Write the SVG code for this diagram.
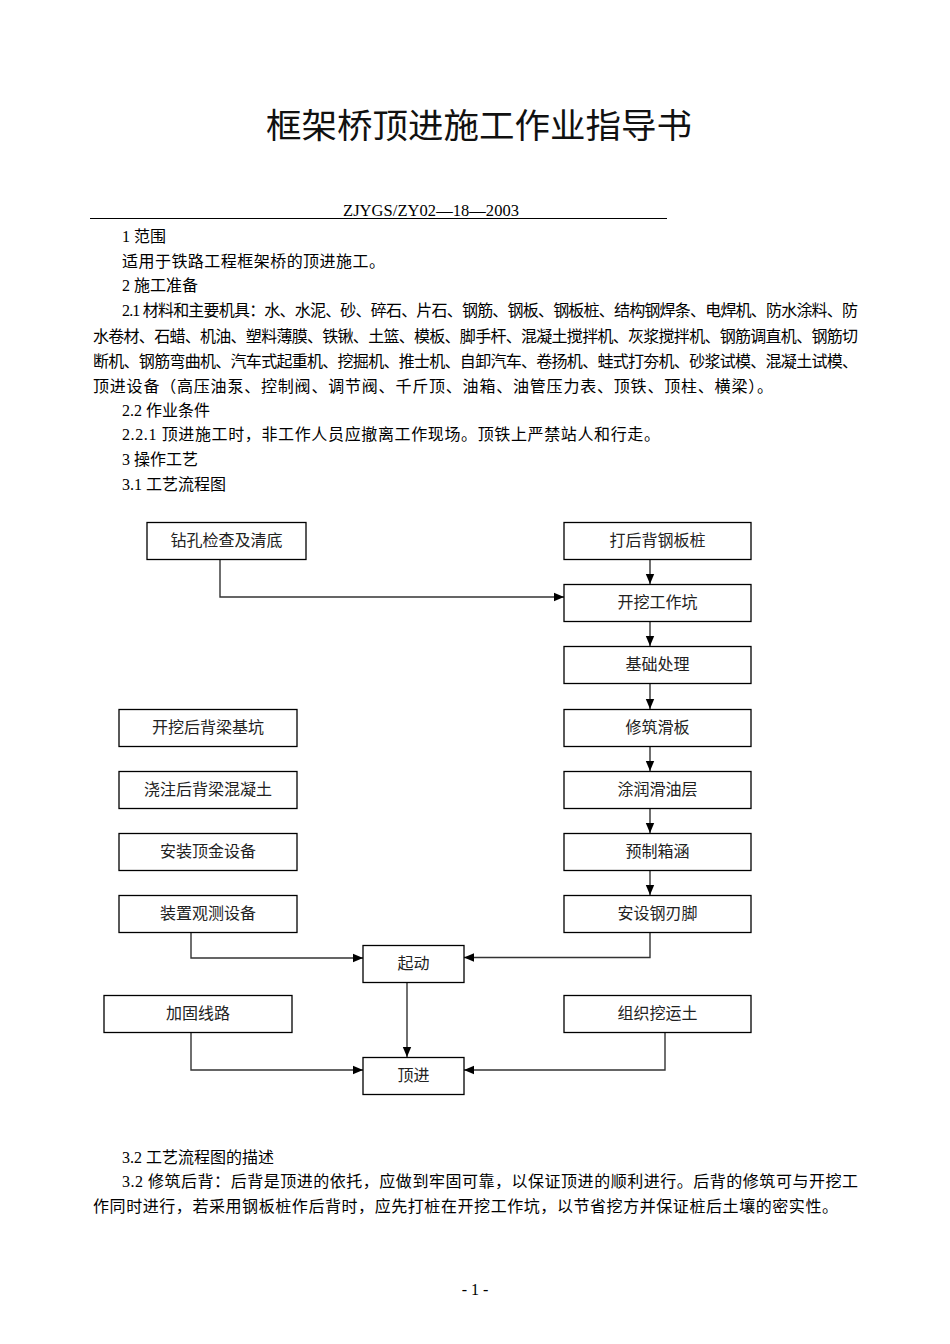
<svg xmlns="http://www.w3.org/2000/svg" width="950" height="1344" viewBox="0 0 950 1344">
<style>
  .t { font-family: "Liberation Serif", "Noto Sans CJK SC", serif; font-size: 16px; fill: #000; }
  .title { font-family: "Noto Sans CJK SC", "Liberation Serif", serif; font-size: 34px; fill: #111; }
  .box rect { fill: #fff; stroke: #000; stroke-width: 1.3; }
  .box text { font-family: "Liberation Serif", "Noto Sans CJK SC", serif; font-size: 16px; fill: #222; text-anchor: middle; }
  .conn path { fill: none; stroke: #333; stroke-width: 1.4; }
</style>
<defs>
  <marker id="arr" markerUnits="userSpaceOnUse" markerWidth="10" markerHeight="10" refX="10" refY="5" orient="auto">
    <path d="M0,0.8 L10,5 L0,9.2 z" fill="#000"/>
  </marker>
</defs>
<rect width="950" height="1344" fill="#fff"/>

<text class="title" x="266" y="138" textLength="426" lengthAdjust="spacingAndGlyphs">框架桥顶进施工作业指导书</text>

<text class="t" x="343" y="216" style="font-size:16.5px" textLength="176">ZJYGS/ZY02—18—2003</text>
<line x1="90" y1="218.5" x2="667" y2="218.5" stroke="#000" stroke-width="1"/>

<text class="t" x="122" y="242">1 范围</text>
<text class="t" x="122" y="267" textLength="263">适用于铁路工程框架桥的顶进施工。</text>
<text class="t" x="122" y="291">2 施工准备</text>
<text class="t" x="122" y="316" textLength="736">2.1 材料和主要机具：水、水泥、砂、碎石、片石、钢筋、钢板、钢板桩、结构钢焊条、电焊机、防水涂料、防</text>
<text class="t" x="93" y="342" textLength="765">水卷材、石蜡、机油、塑料薄膜、铁锹、土篮、模板、脚手杆、混凝土搅拌机、灰浆搅拌机、钢筋调直机、钢筋切</text>
<text class="t" x="93" y="367" textLength="765">断机、钢筋弯曲机、汽车式起重机、挖掘机、推士机、自卸汽车、卷扬机、蛙式打夯机、砂浆试模、混凝土试模、</text>
<text class="t" x="93" y="392" textLength="680">顶进设备（高压油泵、控制阀、调节阀、千斤顶、油箱、油管压力表、顶铁、顶柱、横梁）。</text>
<text class="t" x="122" y="416">2.2 作业条件</text>
<text class="t" x="122" y="440" textLength="538">2.2.1 顶进施工时，非工作人员应撤离工作现场。顶铁上严禁站人和行走。</text>
<text class="t" x="122" y="465">3 操作工艺</text>
<text class="t" x="122" y="490">3.1 工艺流程图</text>

<g class="conn" id="connectors">
  <path d="M220,559 V597 H564" marker-end="url(#arr)"/>
  <path d="M650,559 V584" marker-end="url(#arr)"/>
  <path d="M650,621 V646" marker-end="url(#arr)"/>
  <path d="M650,683 V709" marker-end="url(#arr)"/>
  <path d="M650,746 V771" marker-end="url(#arr)"/>
  <path d="M650,808 V833" marker-end="url(#arr)"/>
  <path d="M650,870 V895" marker-end="url(#arr)"/>
  <path d="M191,932 V958 H363" marker-end="url(#arr)"/>
  <path d="M650,932 V957.5 H464" marker-end="url(#arr)"/>
  <path d="M407,982 V1057" marker-end="url(#arr)"/>
  <path d="M191,1032 V1070 H363" marker-end="url(#arr)"/>
  <path d="M665,1032 V1070 H464" marker-end="url(#arr)"/>
</g>

<g class="box" id="n1"><rect x="147" y="522.5" width="159" height="37"/><text x="226.5" y="545.5">钻孔检查及清底</text></g>
<g class="box" id="n2"><rect x="564" y="522.5" width="187" height="37"/><text x="657.5" y="545.5">打后背钢板桩</text></g>
<g class="box" id="n3"><rect x="564" y="584.5" width="187" height="37"/><text x="657.5" y="607.5">开挖工作坑</text></g>
<g class="box" id="n4"><rect x="564" y="646.5" width="187" height="37"/><text x="657.5" y="669.5">基础处理</text></g>
<g class="box" id="n5"><rect x="564" y="709.5" width="187" height="37"/><text x="657.5" y="732.5">修筑滑板</text></g>
<g class="box" id="n6"><rect x="564" y="771.5" width="187" height="37"/><text x="657.5" y="794.5">涂润滑油层</text></g>
<g class="box" id="n7"><rect x="564" y="833.5" width="187" height="37"/><text x="657.5" y="856.5">预制箱涵</text></g>
<g class="box" id="n8"><rect x="564" y="895.5" width="187" height="37"/><text x="657.5" y="918.5">安设钢刃脚</text></g>
<g class="box" id="n9"><rect x="119" y="709.5" width="178" height="37"/><text x="208" y="732.5">开挖后背梁基坑</text></g>
<g class="box" id="n10"><rect x="119" y="771.5" width="178" height="37"/><text x="208" y="794.5">浇注后背梁混凝土</text></g>
<g class="box" id="n11"><rect x="119" y="833.5" width="178" height="37"/><text x="208" y="856.5">安装顶金设备</text></g>
<g class="box" id="n12"><rect x="119" y="895.5" width="178" height="37"/><text x="208" y="918.5">装置观测设备</text></g>
<g class="box" id="n13"><rect x="363" y="945.5" width="101" height="37"/><text x="413.5" y="968.5">起动</text></g>
<g class="box" id="n14"><rect x="104" y="995.5" width="188" height="37"/><text x="198" y="1018.5">加固线路</text></g>
<g class="box" id="n15"><rect x="564" y="995.5" width="187" height="37"/><text x="657.5" y="1018.5">组织挖运土</text></g>
<g class="box" id="n16"><rect x="363" y="1057.5" width="101" height="37"/><text x="413.5" y="1080.5">顶进</text></g>

<text class="t" x="122" y="1163">3.2 工艺流程图的描述</text>
<text class="t" x="122" y="1187" textLength="736">3.2 修筑后背：后背是顶进的依托，应做到牢固可靠，以保证顶进的顺利进行。后背的修筑可与开挖工</text>
<text class="t" x="93" y="1212" textLength="745">作同时进行，若采用钢板桩作后背时，应先打桩在开挖工作坑，以节省挖方并保证桩后土壤的密实性。</text>

<text class="t" x="475" y="1295" text-anchor="middle">- 1 -</text>
</svg>
